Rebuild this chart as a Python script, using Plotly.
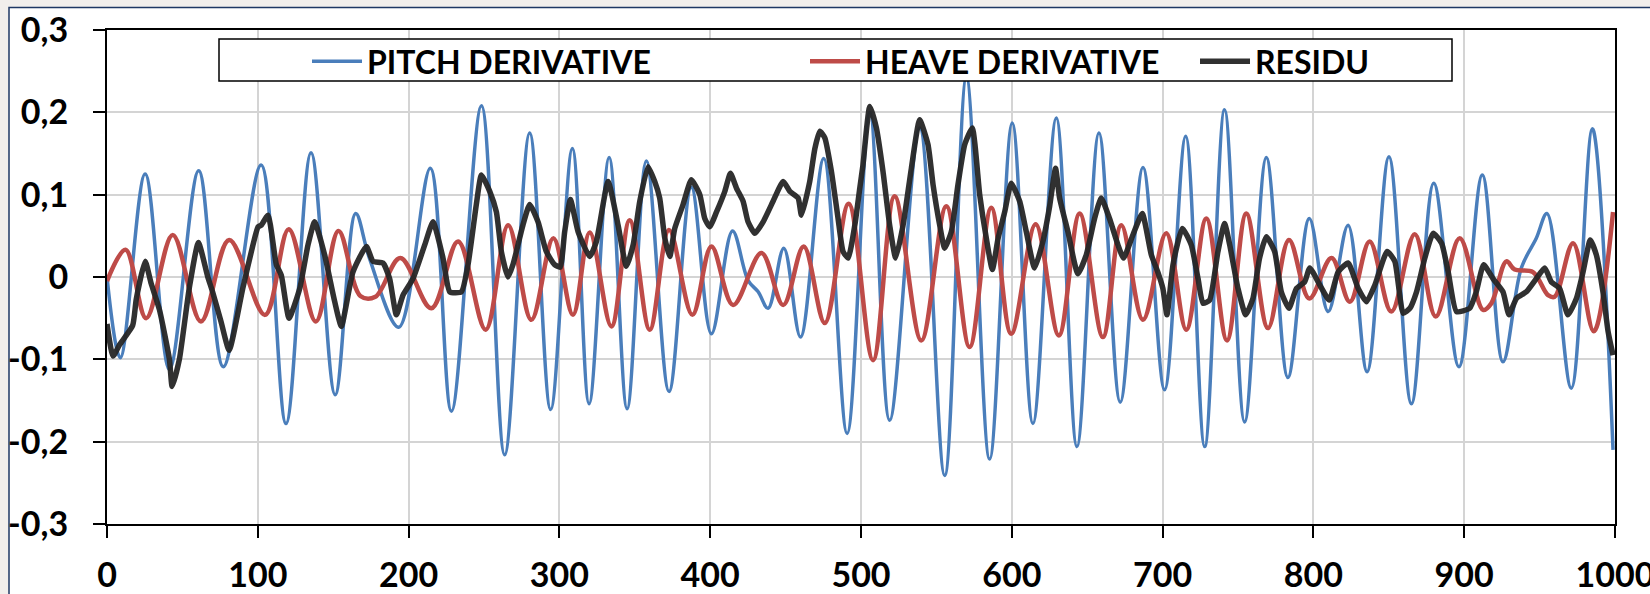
import plotly.graph_objects as go

# ---- data (extrema / key points) ----
pitch_x = [0, 8.8, 25.3, 41.4, 60.8, 77.1, 102.2, 118.7, 135.3, 151.3, 164.9, 174, 193.5,
           214.4, 228.4, 248.3, 263.7, 280.3, 294.2, 308.6, 319.7, 333, 344.9, 357.7, 372.7,
           387.5, 400.8, 414.8, 425.1, 431.8, 438.4, 448.8, 459.9, 475.3, 490.8, 505.8, 519,
           538.9, 555.5, 569.9, 585.3, 600.3, 614, 629.5, 643.2, 657.8, 671.9, 687, 701.3,
           715.3, 727.9, 741.1, 754.4, 768.8, 783.1, 797.3, 809.8, 823, 835.6, 850.1, 865,
           879.8, 896.5, 912, 925.7, 937.9, 947.8, 954.9, 971, 985, 998.7]
pitch_y = [0.0, -0.098, 0.125, -0.112, 0.129, -0.109, 0.136, -0.178, 0.151, -0.143, 0.077, 0.023, -0.061,
           0.132, -0.163, 0.208, -0.216, 0.175, -0.161, 0.156, -0.154, 0.145, -0.160, 0.141, -0.139,
           0.109, -0.069, 0.056, -0.004, -0.018, -0.038, 0.035, -0.073, 0.144, -0.190, 0.200, -0.174,
           0.181, -0.241, 0.242, -0.221, 0.187, -0.178, 0.193, -0.206, 0.175, -0.152, 0.133, -0.137,
           0.171, -0.206, 0.203, -0.176, 0.145, -0.122, 0.071, -0.042, 0.063, -0.115, 0.146, -0.154,
           0.114, -0.109, 0.124, -0.103, 0.011, 0.047, 0.077, -0.135, 0.180, -0.210]

heave_x = [0, 12.3, 26, 43.6, 62.3, 81, 104.8, 120.5, 138.5, 153.5, 168, 178, 194.5,
           215.1, 232.8, 251.1, 266, 281.4, 296, 309, 320.1, 334.5, 346.6, 359.9, 372.7,
           388.2, 400.8, 415.2, 434, 448.4, 462, 476, 491.8, 508, 522.3, 540, 556.6, 572,
           586.4, 599.6, 615.8, 631.2, 645, 660.4, 672.6, 687, 702.4, 715.7, 729, 742.7,
           755.5, 769.9, 783.8, 797.3, 812, 824.2, 837.3, 851.7, 867.2, 881.1, 897, 912.5,
           918, 928, 933.5, 945.6, 955.6, 960, 972.2, 985.9, 998.7]
heave_y = [-0.005, 0.033, -0.050, 0.051, -0.054, 0.045, -0.046, 0.058, -0.054, 0.056, -0.023, -0.024, 0.023,
           -0.038, 0.043, -0.064, 0.063, -0.052, 0.047, -0.046, 0.054, -0.060, 0.069, -0.064, 0.057,
           -0.046, 0.037, -0.034, 0.029, -0.034, 0.037, -0.056, 0.089, -0.101, 0.098, -0.077, 0.086, -0.085,
           0.084, -0.069, 0.064, -0.071, 0.077, -0.073, 0.063, -0.052, 0.053, -0.064, 0.071, -0.077,
           0.077, -0.062, 0.045, -0.026, 0.023, -0.030, 0.043, -0.042, 0.052, -0.048, 0.047, -0.040,
           -0.032, 0.019, 0.009, 0.006, -0.022, -0.024, 0.041, -0.066, 0.079]

residu_x = [0, 4, 8.4, 17, 19.4, 25.3, 29.3, 34.8, 41.4, 43.2, 48, 54.6, 60.6, 66.7, 70, 75.6, 81,
            90, 96.8, 100.2, 102.3, 106.8, 112.3, 115.6, 120.7, 127.8, 133.3, 137.7, 144.3, 151,
            155.4, 163.1, 172, 176.4, 183, 187.4, 191.9, 196.3, 202.9, 210.7, 216.2, 222.8, 227.3,
            235, 239.4, 244.9, 248.3, 253.8, 258.2, 261.5, 265.9, 269.2, 275.8, 280.3, 285.8, 291.3,
            296.8, 300.5, 303.5, 307.3, 312.4, 320.1, 324.5, 332.3, 338.9, 344.4, 348.9, 353.3,
            358.8, 363.2, 366.5, 369.9, 373.2, 376.5, 382, 387.5, 393.1, 396.4, 399.7, 404.2, 409.7,
            413.4, 417.4, 421.8, 425.1, 429.6, 435.1, 441.7, 448.4, 452.8, 458.3, 460.5, 466, 469.4,
            472.7, 476, 480.4, 484.8, 488.1, 491.5, 495.9, 499.2, 501.3, 505.8, 510.2, 514.6, 519,
            523, 527.9, 533.4, 538.9, 544.4, 547.8, 552.2, 555.5, 559.9, 564.3, 568.8, 573.8, 578.7,
            583.1, 587.1, 590.9, 595.3, 599.6, 605.2, 609.6, 615.1, 620.6, 625.1, 629, 631.7, 637.2,
            643.8, 649.4, 654.9, 659.3, 664.8, 670.4, 674.1, 680.3, 686.5, 692.5, 697, 700.2, 702.9,
            706.9, 713.1, 719, 723.5, 726.8, 731.2, 736.7, 741.1, 744.5, 750, 755.1, 759.9, 764.3,
            768.8, 774.3, 778.7, 783.8, 788.7, 794.2, 797.6, 804.3, 810.5, 816.4, 823, 829.7, 835.2,
            840.7, 848.9, 854, 859.5, 864, 868.4, 873.9, 879.4, 885, 889.4, 894.9, 903.6, 908, 912.9,
            919.1, 925.7, 929.7, 934.6, 941.2, 947.8, 953.4, 957.8, 963.3, 968.8, 974.4, 978.8,
            983.6, 987.6, 992, 995.4, 998.7]
residu_y = [-0.057, -0.096, -0.082, -0.059, -0.027, 0.019, -0.008, -0.040, -0.100, -0.133, -0.100,
            -0.013, 0.042, 0.001, -0.018, -0.054, -0.089, -0.014, 0.039, 0.061, 0.063, 0.075, 0.015,
            0.002, -0.050, -0.014, 0.039, 0.067, 0.027, -0.030, -0.060, 0.006, 0.037, 0.019, 0.017,
            -0.002, -0.046, -0.022, -0.002, 0.039, 0.067, 0.023, -0.018, -0.018, 0.015, 0.088, 0.124,
            0.104, 0.079, 0.031, 0.000, 0.015, 0.063, 0.088, 0.067, 0.031, 0.015, 0.012, 0.055, 0.094,
            0.055, 0.025, 0.043, 0.116, 0.063, 0.013, 0.039, 0.092, 0.134, 0.116, 0.096, 0.047, 0.025,
            0.059, 0.088, 0.118, 0.100, 0.071, 0.061, 0.079, 0.104, 0.126, 0.108, 0.092, 0.067, 0.053,
            0.067, 0.092, 0.116, 0.104, 0.096, 0.075, 0.116, 0.156, 0.177, 0.169, 0.128, 0.071, 0.031,
            0.023, 0.063, 0.108, 0.136, 0.207, 0.181, 0.128, 0.063, 0.023, 0.063, 0.132, 0.191, 0.161,
            0.112, 0.063, 0.035, 0.055, 0.112, 0.161, 0.181, 0.100, 0.047, 0.009, 0.047, 0.079, 0.114,
            0.092, 0.055, 0.011, 0.043, 0.086, 0.132, 0.096, 0.055, 0.004, 0.027, 0.071, 0.096, 0.071,
            0.039, 0.023, 0.051, 0.077, 0.027, 0.005, -0.014, -0.046, 0.015, 0.059, 0.039, -0.002,
            -0.032, -0.028, 0.031, 0.065, 0.039, -0.014, -0.046, -0.026, 0.023, 0.049, 0.031, -0.018,
            -0.038, -0.014, -0.006, 0.011, -0.010, -0.028, 0.006, 0.017, -0.014, -0.030, -0.010,
            0.031, 0.019, -0.044, -0.038, -0.018, 0.023, 0.053, 0.041, 0.006, -0.042, -0.038, -0.018,
            0.015, -0.002, -0.018, -0.046, -0.026, -0.018, -0.002, 0.011, -0.006, -0.014, -0.046,
            -0.026, 0.006, 0.045, 0.027, -0.018, -0.066, -0.095]

x_ticks = [0, 100, 200, 300, 400, 500, 600, 700, 800, 900, 1000]
y_ticks = [-0.3, -0.2, -0.1, 0, 0.1, 0.2, 0.3]
y_ticktext = ["-0,3", "-0,2", "-0,1", "0", "0,1", "0,2", "0,3"]

FONT = "Lato"

fig = go.Figure()
fig.add_trace(go.Scatter(x=pitch_x, y=pitch_y, name="PITCH DERIVATIVE", mode="lines",
                         line=dict(color="#4a7ebb", width=3.5, shape="spline", smoothing=1.0),
                         legend="legend"))
fig.add_trace(go.Scatter(x=heave_x, y=heave_y, name="HEAVE DERIVATIVE", mode="lines",
                         line=dict(color="#be4b48", width=4.5, shape="spline", smoothing=1.0),
                         legend="legend"))
fig.add_trace(go.Scatter(x=residu_x, y=residu_y, name="RESIDU", mode="lines",
                         line=dict(color="#262626", width=5.5, shape="spline", smoothing=0.5),
                         opacity=0.95, legend="legend2"))

L, R, T, B = 107, 35, 30, 70
W, H = 1650, 594
pw, ph = W - L - R, H - T - B

def px_x(p):
    return (p - L) / pw

def px_y(p):
    return (H - B - p) / ph

legend_font = dict(family=FONT, size=32, weight="bold", color="black")

fig.update_layout(
    width=W, height=H,
    margin=dict(l=L, r=R, t=T, b=B, autoexpand=False),
    paper_bgcolor="#f2efec",
    plot_bgcolor="white",
    separators=", ",
    font=dict(family=FONT, color="black"),
    showlegend=True,
    legend=dict(orientation="h", x=px_x(307), y=px_y(34), xanchor="left", yanchor="top",
                bgcolor="rgba(0,0,0,0)", borderwidth=0, font=legend_font,
                entrywidth=433, entrywidthmode="pixels", itemwidth=50),
    legend2=dict(orientation="h", x=px_x(1195), y=px_y(34), xanchor="left", yanchor="top",
                 bgcolor="rgba(0,0,0,0)", borderwidth=0, font=legend_font, itemwidth=50),
    shapes=[
        dict(type="rect", xref="paper", yref="paper", x0=px_x(9), x1=px_x(1700),
             y0=px_y(650), y1=px_y(7.5), fillcolor="white",
             line=dict(color="#1f3864", width=1.5), layer="below"),
        dict(type="rect", xref="paper", yref="paper", x0=px_x(219), x1=px_x(1452),
             y0=px_y(81), y1=px_y(39), fillcolor="white",
             line=dict(color="black", width=1.5), layer="above"),
    ],
)

fig.update_xaxes(range=[0, 1000], tickvals=x_ticks, showgrid=True, gridcolor="#d4d4d4", gridwidth=1.5,
                 showline=True, linecolor="black", linewidth=2, mirror=True,
                 ticks="outside", ticklen=12, tickwidth=2, tickcolor="black",
                 tickfont=dict(family=FONT, size=34, weight="bold", color="black"),
                 ticklabelstandoff=8, ticklabeloverflow="allow", zeroline=False)
fig.update_yaxes(range=[-0.3, 0.3], tickvals=y_ticks, ticktext=y_ticktext, showgrid=True,
                 gridcolor="#d4d4d4", gridwidth=1.5,
                 showline=True, linecolor="black", linewidth=2, mirror=True,
                 ticks="outside", ticklen=12, tickwidth=2, tickcolor="black",
                 tickfont=dict(family=FONT, size=34, weight="bold", color="black"),
                 ticklabelstandoff=18, ticklabeloverflow="allow", zeroline=False)

fig.write_html("out.html", config={"displayModeBar": False},
               post_script="document.body.style.margin='0';document.body.style.overflow='hidden';")
